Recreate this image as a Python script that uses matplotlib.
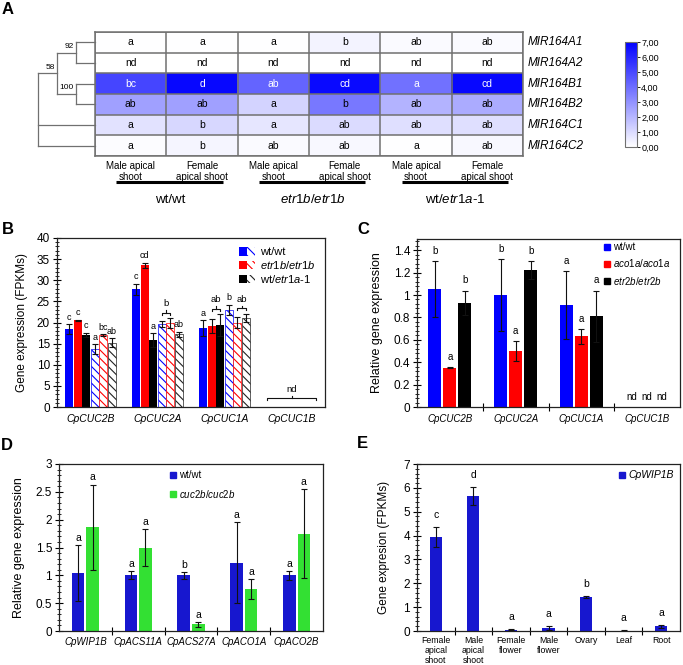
import numpy as np
import matplotlib
matplotlib.use('Agg')
import matplotlib.pyplot as plt
from matplotlib.colors import LinearSegmentedColormap
from matplotlib.patches import Patch
from matplotlib.lines import Line2D
from matplotlib.legend_handler import HandlerTuple
from matplotlib.ticker import MultipleLocator, FixedLocator, FuncFormatter

plt.rcParams['font.family'] = ['Liberation Sans', 'DejaVu Sans']
plt.rcParams['mathtext.fontset'] = 'custom'
plt.rcParams['mathtext.rm'] = 'Liberation Sans'
plt.rcParams['mathtext.it'] = 'Liberation Sans:italic'
plt.rcParams['hatch.linewidth'] = 0.8

nan = np.nan

# ---------------- Panel A data ----------------
mir_genes = ['MIR164A1', 'MIR164A2', 'MIR164B1', 'MIR164B2', 'MIR164C1', 'MIR164C2']
heat_cols = ['Male apical\nshoot', 'Female\napical shoot'] * 3
heat_groups = ['wt/wt', r'$\mathit{etr1b/etr1b}$', r'wt/$\mathit{etr1a}$-$\mathit{1}$']
heat_values = [
    [0.05, 0.05, 0.05, 0.35, 0.15, 0.15],
    [0.0, 0.0, 0.0, 0.0, 0.0, 0.0],
    [5.1, 6.8, 4.25, 6.7, 3.9, 6.8],
    [2.6, 2.6, 1.2, 3.7, 2.1, 2.3],
    [0.8, 1.1, 0.7, 1.0, 0.9, 0.9],
    [0.1, 0.3, 0.15, 0.2, 0.05, 0.2],
]
heat_letters = [
    ['a', 'a', 'a', 'b', 'ab', 'ab'],
    ['nd', 'nd', 'nd', 'nd', 'nd', 'nd'],
    ['bc', 'd', 'ab', 'cd', 'a', 'cd'],
    ['ab', 'ab', 'a', 'b', 'ab', 'ab'],
    ['a', 'b', 'a', 'ab', 'ab', 'ab'],
    ['a', 'b', 'ab', 'ab', 'a', 'ab'],
]
cbar_ticks = [0, 1, 2, 3, 4, 5, 6, 7]
# dendrogram nodes: (name, child_a, child_b, height, support)
dendro_nodes = [
    ('n1', 0, 1, 1.0, '92'),
    ('n2', 2, 3, 1.0, '100'),
    ('n3', 'n1', 'n2', 2.0, '58'),
]
dendro_root_height = 3.0
dendro_root_children = ['n3', 4, 5]

# ---------------- Panel B data ----------------
b_genes = ['CpCUC2B', 'CpCUC2A', 'CpCUC1A', 'CpCUC1B']
b_male_vals = [[18.4, 27.9, 18.7, nan], [20.5, 33.5, 19.2, nan], [17.1, 15.8, 19.4, nan]]
b_male_err = [[1.2, 1.3, 1.8, nan], [0.15, 0.6, 1.6, nan], [0.5, 1.6, 2.6, nan]]
b_female_vals = [[13.7, 19.6, 23.0, nan], [17.0, 19.9, 20.0, nan], [15.2, 17.2, 21.1, nan]]
b_female_err = [[1.2, 0.7, 1.2, nan], [0.2, 1.1, 1.2, nan], [1.1, 0.6, 1.0, nan]]
b_letters = [
    ['c', 'c', 'c', 'a', 'bc', 'ab'],
    ['c', 'cd', 'a', '', '', 'ab'],
    ['a', '', '', 'b', '', ''],
    ['', '', '', '', '', ''],
]
b_brackets = [(1, 3, 4, 'b'), (2, 1, 2, 'ab'), (2, 4, 5, 'ab'), (3, 0, 5, 'nd')]
b_labels = ['wt/wt', r'$\mathit{etr1b/etr1b}$', r'wt/$\mathit{etr1a}$-$\mathit{1}$']

# ---------------- Panel C data ----------------
c_genes = ['CpCUC2B', 'CpCUC2A', 'CpCUC1A', 'CpCUC1B']
c_series = ['wt/wt', r'$\mathit{aco1a/aco1a}$', r'$\mathit{etr2b/etr2b}$']
c_vals = [[1.05, 1.0, 0.91, nan], [0.35, 0.50, 0.63, nan], [0.93, 1.22, 0.81, nan]]
c_err = [[0.25, 0.32, 0.30, nan], [0.005, 0.09, 0.07, nan], [0.11, 0.08, 0.23, nan]]
c_letters = [['b', 'b', 'a', 'nd'], ['a', 'a', 'a', 'nd'], ['b', 'b', 'a', 'nd']]

# ---------------- Panel D data ----------------
d_genes = ['CpWIP1B', 'CpACS11A', 'CpACS27A', 'CpACO1A', 'CpACO2B']
d_series = ['wt/wt', r'$\mathit{cuc2b/cuc2b}$']
d_vals = [[1.04, 1.0, 1.0, 1.23, 1.0], [1.86, 1.50, 0.12, 0.75, 1.75]]
d_err = [[0.5, 0.07, 0.06, 0.73, 0.08], [0.77, 0.33, 0.04, 0.18, 0.8]]
d_letters = [['a', 'a', 'b', 'a', 'a'], ['a', 'a', 'a', 'a', 'a']]

# ---------------- Panel E data ----------------
e_tissues = ['Female\napical\nshoot', 'Male\napical\nshoot', 'Female\nflower', 'Male\nflower',
             'Ovary', 'Leaf', 'Root']
e_vals = [3.95, 5.65, 0.05, 0.13, 1.42, 0.02, 0.2]
e_err = [0.42, 0.37, 0.02, 0.09, 0.05, 0.01, 0.07]
e_letters = ['c', 'd', 'a', 'a', 'b', 'a', 'a']
e_series = 'CpWIP1B'

# ---------------- styling ----------------
BLUE = '#0000ff'
RED = '#ff0000'
BLACK = '#000000'
BLUE2 = '#1717cf'
GREEN = '#33e033'
HATCH = '\\\\\\\\'

W, H = 683, 665
fig = plt.figure(figsize=(W / 100, H / 100), dpi=100)


def px_axes(x0, y0, x1, y1):
    return fig.add_axes([x0 / W, 1 - y1 / H, (x1 - x0) / W, (y1 - y0) / H])


def style_axes(ax, major, minor, labelsize=8.5):
    for s in ax.spines.values():
        s.set_linewidth(0.9)
        s.set_color('#222222')
    ax.yaxis.set_major_locator(MultipleLocator(major))
    ax.yaxis.set_minor_locator(MultipleLocator(minor))
    ax.tick_params(axis='y', which='major', direction='inout', length=6, width=0.8,
                   labelsize=labelsize, pad=2)
    ax.tick_params(axis='y', which='minor', direction='inout', length=3.5, width=0.6)
    ax.yaxis.set_major_formatter(FuncFormatter(lambda v, p: ('%g' % round(v, 2))))


# ---------------- Panel A ----------------
axh = px_axes(95, 32, 523, 156)
cmap = LinearSegmentedColormap.from_list('wb', ['#ffffff', '#0000ff'])
vals = np.array(heat_values)
im = axh.imshow(vals, cmap=cmap, vmin=0, vmax=7, aspect='auto')
axh.set_xticks([])
axh.set_yticks([])
axh.set_xticks(np.arange(-0.5, 6, 1), minor=True)
axh.set_yticks(np.arange(-0.5, 6, 1), minor=True)
axh.grid(which='minor', color='#707070', lw=1.1)
axh.tick_params(which='both', length=0, labelbottom=False, labelleft=False)
for s in axh.spines.values():
    s.set_color('#707070')
    s.set_linewidth(1.1)
for i in range(6):
    for j in range(6):
        axh.text(j, i, heat_letters[i][j], ha='center', va='center', fontsize=7.5,
                 color='white' if vals[i, j] > 3.8 else 'black')
    axh.text(5.56, i, mir_genes[i], ha='left', va='center', fontsize=8.5,
             style='italic', clip_on=False)
for j in range(6):
    axh.text(j, 5.73, heat_cols[j], ha='center', va='top', fontsize=7,
             linespacing=1.1, clip_on=False)
for g in range(3):
    c0, c1 = 2 * g, 2 * g + 1
    axh.plot([c0 - 0.2, c1 + 0.29], [6.75, 6.75], color='black', lw=2.2,
             solid_capstyle='butt', clip_on=False)
    axh.text((c0 + c1) / 2 + 0.05, 7.62, heat_groups[g], ha='center', va='center',
             fontsize=9.5, style='italic' if g == 1 else 'normal', clip_on=False)
axh.set_xlim(-0.5, 5.5)
axh.set_ylim(5.5, -0.5)

# dendrogram
axd = px_axes(38, 32, 95, 156)
axd.axis('off')
pos = {}
hts = {}
for k in range(6):
    pos[k] = k
    hts[k] = 0.0
dcol = '#707070'
for name, a, b, h, sup in dendro_nodes:
    for ch in (a, b):
        axd.plot([hts[ch], h], [pos[ch], pos[ch]], color=dcol, lw=0.9, clip_on=False)
    axd.plot([h, h], [pos[a], pos[b]], color=dcol, lw=0.9)
    pos[name] = (pos[a] + pos[b]) / 2
    hts[name] = h
    axd.text(h + 0.12, pos[name] - 0.3, sup, ha='right', va='center', fontsize=6)
ys = [pos[c] for c in dendro_root_children]
for ch in dendro_root_children:
    axd.plot([hts[ch], dendro_root_height], [pos[ch], pos[ch]], color=dcol, lw=0.9,
             clip_on=False)
axd.plot([dendro_root_height] * 2, [min(ys), max(ys)], color=dcol, lw=0.9, clip_on=False)
axd.set_xlim(dendro_root_height, 0)
axd.set_ylim(5.5, -0.5)

# colorbar
cax = px_axes(625, 42, 637, 147)
cb = fig.colorbar(im, cax=cax, ticks=cbar_ticks)
cb.ax.yaxis.set_major_formatter(FuncFormatter(lambda v, p: ('%.2f' % v).replace('.', ',')))
cb.ax.tick_params(labelsize=6.5, length=2, width=0.6, pad=1)
cb.outline.set_edgecolor('#707070')

# ---------------- Panel B ----------------
axb = px_axes(57, 238, 325, 407)
style_axes(axb, 5, 1)
x = np.arange(len(b_genes))
bw, step = 0.12, 0.128
cols = [BLUE, RED, BLACK]
all_series = []
for k in range(3):
    all_series.append((b_male_vals[k], b_male_err[k], cols[k], False))
for k in range(3):
    all_series.append((b_female_vals[k], b_female_err[k], cols[k], True))
tops = np.zeros((len(b_genes), 6))
for i, (v, e, c, hat) in enumerate(all_series):
    p = x + (i - 2.5) * step
    v = np.array(v)
    e = np.array(e)
    if hat:
        axb.bar(p, v, bw, facecolor='white', edgecolor=c if c != BLACK else '#222222',
                hatch=HATCH, linewidth=0.5)
    else:
        axb.bar(p, v, bw, color=c, linewidth=0)
    axb.errorbar(p, v, yerr=e, fmt='none', ecolor='#111111', elinewidth=0.8,
                 capsize=2, capthick=0.8)
    tops[:, i] = v + e
    for g in range(len(b_genes)):
        if b_letters[g][i] and not np.isnan(v[g]):
            axb.text(p[g], v[g] + e[g] + 0.6, b_letters[g][i], ha='center', va='bottom',
                     fontsize=6.5)
for g, i0, i1, lab in b_brackets:
    x0 = g + (i0 - 2.5) * step
    x1 = g + (i1 - 2.5) * step
    seg = tops[g, i0:i1 + 1]
    if np.all(np.isnan(seg)):
        y = 2.1
        x0 -= 0.04
        x1 += 0.04
    else:
        y = np.nanmax(seg) + 1.3
    tick = 0.55
    axb.plot([x0, x0, x1, x1], [y - tick, y, y, y - tick], color='#111111', lw=0.8)
    xm = (x0 + x1) / 2
    axb.plot([xm, xm], [y, y + tick], color='#111111', lw=0.8)
    axb.text(xm, y + tick + 0.5, lab, ha='center', va='bottom', fontsize=6.8)
axb.set_xlim(-0.5, 3.5)
axb.set_ylim(0, 40)
axb.set_xticks(x)
axb.set_xticklabels(b_genes, style='italic', fontsize=7.5)
axb.tick_params(axis='x', length=0, pad=5)
axb.set_ylabel('Gene expression (FPKMs)', fontsize=8.5)
axb.yaxis.set_label_coords(-0.108, 0.5)
handles = []
for c in cols:
    ec = c if c != BLACK else '#222222'
    handles.append((Patch(facecolor=c, edgecolor=c, linewidth=0),
                    Patch(facecolor='white', edgecolor=ec, hatch=HATCH, linewidth=0)))
axb.legend(handles, b_labels, handler_map={tuple: HandlerTuple(ndivide=None, pad=0)},
           loc='upper left', bbox_to_anchor=(0.655, 0.985), frameon=False, fontsize=8,
           handlelength=1.4, handleheight=0.8, handletextpad=0.5, labelspacing=0.15,
           borderaxespad=0.3, borderpad=0.3)

# ---------------- Panel C ----------------
axc = px_axes(417, 239, 680, 407)
style_axes(axc, 0.2, 0.04)
xc = np.arange(len(c_genes))
cw, cstep = 0.2, 0.228
ccols = [BLUE, RED, BLACK]
for k in range(3):
    p = xc + (k - 1) * cstep
    v = np.array(c_vals[k])
    e = np.array(c_err[k])
    axc.bar(p, v, cw, color=ccols[k], linewidth=0)
    axc.errorbar(p, v, yerr=e, fmt='none', ecolor='#111111', elinewidth=0.8,
                 capsize=2, capthick=0.8)
    for g in range(len(c_genes)):
        if np.isnan(v[g]):
            axc.text(p[g], 0.09, c_letters[k][g], ha='center', va='center', fontsize=7)
        else:
            axc.text(p[g], v[g] + e[g] + 0.09, c_letters[k][g], ha='center',
                     va='center', fontsize=7)
axc.set_xlim(-0.5, 3.5)
axc.set_ylim(0, 1.5)
axc.yaxis.set_major_locator(FixedLocator(np.arange(0, 1.41, 0.2)))
axc.yaxis.set_minor_locator(FixedLocator(np.arange(0, 1.49, 0.04)))
axc.set_xticks([0.5, 1.5, 2.5])
axc.set_xticklabels([])
axc.set_xticks(xc, c_genes, minor=True, style='italic', fontsize=7)
axc.tick_params(axis='x', which='major', direction='inout', length=6, width=0.8)
axc.tick_params(axis='x', which='minor', length=0, pad=5)
axc.set_ylabel('Relative gene expression', fontsize=9)
axc.yaxis.set_label_coords(-0.13, 0.5)
ch = [Line2D([], [], marker='s', color=c, linestyle='none', markersize=4.5) for c in ccols]
axc.legend(ch, c_series, loc='upper left', bbox_to_anchor=(0.7, 1.0), frameon=False,
           fontsize=7, handlelength=0.6, handletextpad=0.3, labelspacing=0.55,
           borderaxespad=0.0, borderpad=0.3)

# ---------------- Panel D ----------------
axdd = px_axes(59, 464, 323, 631)
style_axes(axdd, 0.5, 0.1)
xd = np.arange(len(d_genes))
dw, dstep = 0.24, 0.275
dcols = [BLUE2, GREEN]
for k in range(2):
    p = xd + (k - 0.5) * dstep
    v = np.array(d_vals[k])
    e = np.array(d_err[k])
    axdd.bar(p, v, dw, color=dcols[k], linewidth=0)
    axdd.errorbar(p, v, yerr=e, fmt='none', ecolor='#111111', elinewidth=0.8,
                  capsize=2, capthick=0.8)
    for g in range(len(d_genes)):
        axdd.text(p[g], v[g] + e[g] + 0.13, d_letters[k][g], ha='center', va='center',
                  fontsize=7.5)
axdd.set_xlim(-0.5, 4.5)
axdd.set_ylim(0, 3)
axdd.set_xticks([0.5, 1.5, 2.5, 3.5])
axdd.set_xticklabels([])
axdd.set_xticks(xd, d_genes, minor=True, style='italic', fontsize=7)
axdd.tick_params(axis='x', which='major', direction='inout', length=6, width=0.8)
axdd.tick_params(axis='x', which='minor', length=0, pad=4.5)
axdd.set_ylabel('Relative gene expression', fontsize=9)
axdd.yaxis.set_label_coords(-0.129, 0.5)
dh = [Line2D([], [], marker='s', color=c, linestyle='none', markersize=4.5) for c in dcols]
axdd.legend(dh, d_series, loc='upper left', bbox_to_anchor=(0.41, 0.98), frameon=False,
            fontsize=7, handlelength=0.6, handletextpad=0.3, labelspacing=0.75,
            borderaxespad=0.0, borderpad=0.3)

# ---------------- Panel E ----------------
axe = px_axes(417, 464, 680, 631)
style_axes(axe, 1, 0.2)
xe = np.arange(len(e_tissues))
axe.bar(xe, e_vals, 0.32, color=BLUE2, linewidth=0)
axe.errorbar(xe, e_vals, yerr=e_err, fmt='none', ecolor='#111111', elinewidth=0.8,
             capsize=2, capthick=0.8)
for g in range(len(e_tissues)):
    axe.text(xe[g], e_vals[g] + e_err[g] + 0.5, e_letters[g], ha='center', va='center',
             fontsize=7.5)
axe.set_xlim(-0.5, 6.5)
axe.set_ylim(0, 7)
axe.set_xticks(np.arange(0.5, 6, 1))
axe.set_xticklabels([])
axe.set_xticks(xe, e_tissues, minor=True, fontsize=6.3, linespacing=1.15)
axe.tick_params(axis='x', which='major', direction='inout', length=6, width=0.8)
axe.tick_params(axis='x', which='minor', length=0, pad=3.5)
axe.set_ylabel('Gene expresion (FPKMs)', fontsize=8.5)
axe.yaxis.set_label_coords(-0.103, 0.5)
eh = [Line2D([], [], marker='s', color=BLUE2, linestyle='none', markersize=4.5)]
axe.legend(eh, [e_series], loc='upper left', bbox_to_anchor=(0.757, 0.98), frameon=False,
           handlelength=0.6, handletextpad=0.3, borderaxespad=0.0,
           borderpad=0.3, prop={'style': 'italic', 'size': 7.5})

# panel letters
for lab, (px, py) in {'A': (8, 9), 'B': (8, 230), 'C': (363, 230), 'D': (7, 445),
                      'E': (362, 443)}.items():
    fig.text(px / W, 1 - py / H, lab, fontsize=12, fontweight='bold', ha='center',
             va='center')

fig.savefig('out.png', dpi=100)
